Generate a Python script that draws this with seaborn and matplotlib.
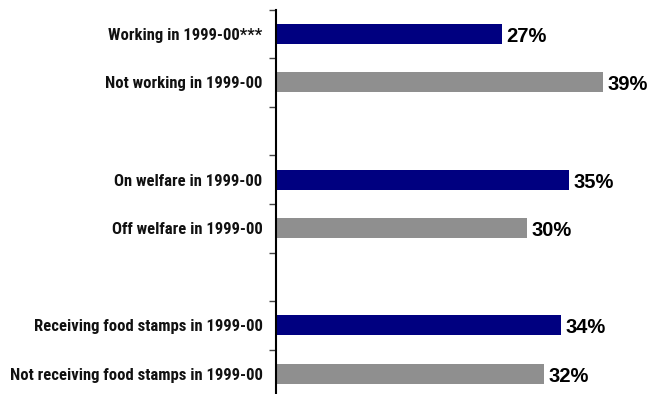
import numpy as np
import pandas as pd
import matplotlib
matplotlib.use("Agg")
import matplotlib.pyplot as plt
import seaborn as sns
from matplotlib import font_manager

# Categories (blank entries are spacer rows between the groups)
labels = [
    "Working in 1999-00***",
    "Not working in 1999-00",
    "",
    "On welfare in 1999-00",
    "Off welfare in 1999-00",
    " ",
    "Receiving food stamps in 1999-00",
    "Not receiving food stamps in 1999-00",
]
values = [27, 39, np.nan, 35, 30, np.nan, 34, 32]
kinds = ["yes", "no", "yes", "yes", "no", "yes", "yes", "no"]

palette = {"yes": "#000080", "no": "#8f8f8f"}

sns.set_theme(style="white")
plt.rcParams["font.family"] = ["Liberation Sans", "DejaVu Sans"]

# pick a narrow bold face for the category labels
bold_faces = {f.name for f in font_manager.fontManager.ttflist
              if (f.weight in (700, "bold") or f.weight == 700)}
narrow = "Liberation Sans"
for cand in ["Liberation Sans Narrow", "Arial Narrow", "Roboto Condensed",
             "Archivo Narrow", "Asap Condensed", "Barlow Semi Condensed"]:
    if cand in bold_faces:
        narrow = cand
        break

df = pd.DataFrame({"label": labels, "value": values, "kind": kinds})

fig = plt.figure(figsize=(6.49, 3.94), dpi=100)
W, H = 649, 394
x0_px, px_per_unit, xmax = 275.7, 8.38, 44
top_px, slot_px = 9.5, 48.6
ax = fig.add_axes([x0_px / W, 1 - (top_px + 8 * slot_px) / H,
                   xmax * px_per_unit / W, 8 * slot_px / H])

sns.barplot(data=df, y="label", x="value", hue="kind", palette=palette,
            dodge=False, width=0.41, orient="h", ax=ax, legend=False,
            linewidth=0, saturation=1)

ax.set_xlim(0, xmax)
ax.set_ylim(7.5, -0.5)
ax.set_xlabel("")
ax.set_ylabel("")
ax.set_xticks([])

# size the labels so the longest one spans about 252 px
renderer = fig.canvas.get_renderer()
probe = fig.text(0, 0, labels[-1], fontfamily=[narrow, "DejaVu Sans"],
                 fontweight="bold", fontsize=10)
w10 = probe.get_window_extent(renderer).width
probe.remove()
label_size = 10 * 252 / w10

ax.set_yticks(range(len(labels)))
ax.set_yticklabels(labels, fontfamily=[narrow, "DejaVu Sans"],
                   fontweight="bold", fontsize=label_size, color="#111111")
ax.tick_params(axis="y", which="major", length=0, pad=9.5)
ax.set_yticks(np.arange(-0.5, len(labels), 1.0), minor=True)
ax.tick_params(axis="y", which="minor", length=5, width=1,
               color="#444444", direction="out", left=True)

for s in ["top", "right", "bottom"]:
    ax.spines[s].set_visible(False)
ax.spines["left"].set_color("black")
ax.spines["left"].set_linewidth(1.5)

for i, v in enumerate(values):
    if not np.isnan(v):
        ax.text(v + 0.55, i + 0.05, f"{v:.0f}%", va="center", ha="left",
                fontsize=14.5, fontweight="bold", color="black")

fig.savefig("out.png", dpi=100)
